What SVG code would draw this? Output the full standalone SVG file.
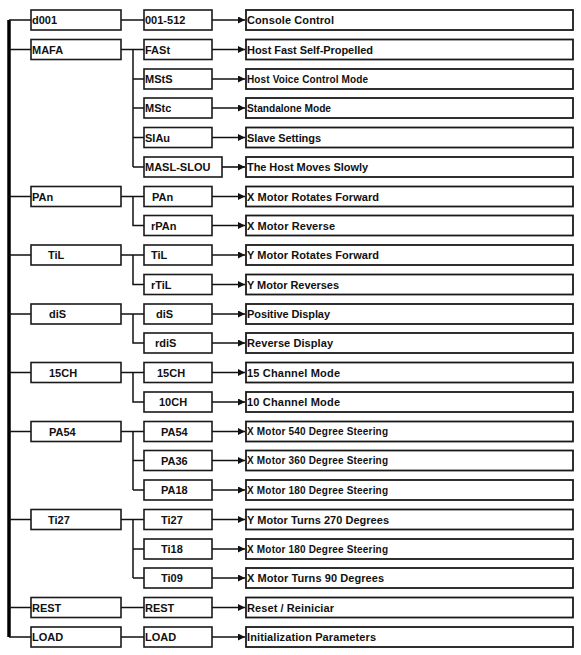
<svg xmlns="http://www.w3.org/2000/svg" width="581" height="655" viewBox="0 0 581 655">
<style>
.b{fill:#fff;stroke:#1a1a1a;stroke-width:1.6}
.r{fill:#fff;stroke:#1a1a1a;stroke-width:1.8}
.t{font-family:"Liberation Sans",Arial,sans-serif;font-weight:bold;font-size:11px;fill:#111}
.s{font-size:10px}
.c{fill:none;stroke:#111;stroke-width:1.5}
.a{fill:none;stroke:#111;stroke-width:1.6;marker-end:url(#ah)}
</style>
<defs>
<marker id="ah" markerWidth="8" markerHeight="7" refX="7" refY="3.5" orient="auto" markerUnits="userSpaceOnUse">
<path d="M0,0 L7,3.5 L0,7 Z" fill="#111"/>
</marker>
</defs>
<rect width="581" height="655" fill="#fff"/>
<g id="connectors">
<path d="M9,637 V20" fill="none" stroke="#000" stroke-width="3.5"/>
<path class="c" d="M9,20 H31 M9,49.5 H31 M9,196.5 H31 M9,255 H31 M9,314 H31 M9,372.5 H31 M9,431.5 H31 M9,519.5 H31 M9,607.5 H31 M9,637 H31"/>
<path class="c" d="M121,20 H144 M121,607.5 H144 M121,637 H144"/>
<path class="c" d="M121,49.5 H144 M133,49.5 V167 M133,79 H144 M133,108 H144 M133,137.5 H144 M133,167 H144"/>
<path class="c" d="M121,196.5 H144 M133,196.5 V225.5 H144"/>
<path class="c" d="M121,255 H144 M133,255 V284.5 H144"/>
<path class="c" d="M121,314 H144 M133,314 V343 H144"/>
<path class="c" d="M121,372.5 H144 M133,372.5 V402 H144"/>
<path class="c" d="M121,431.5 H144 M133,431.5 V490 M133,460.5 H144 M133,490 H144"/>
<path class="c" d="M121,519.5 H144 M133,519.5 V578 M133,549 H144 M133,578 H144"/>
<path class="a" d="M212,20 H245"/>
<path class="a" d="M212,49.5 H245"/>
<path class="a" d="M212,79 H245"/>
<path class="a" d="M212,108 H245"/>
<path class="a" d="M212,137.5 H245"/>
<path class="a" d="M222,167 H245"/>
<path class="a" d="M212,196.5 H245"/>
<path class="a" d="M212,225.5 H245"/>
<path class="a" d="M212,255 H245"/>
<path class="a" d="M212,284.5 H245"/>
<path class="a" d="M212,314 H245"/>
<path class="a" d="M212,343 H245"/>
<path class="a" d="M212,372.5 H245"/>
<path class="a" d="M212,402 H245"/>
<path class="a" d="M212,431.5 H245"/>
<path class="a" d="M212,460.5 H245"/>
<path class="a" d="M212,490 H245"/>
<path class="a" d="M212,519.5 H245"/>
<path class="a" d="M212,549 H245"/>
<path class="a" d="M212,578 H245"/>
<path class="a" d="M212,607.5 H245"/>
<path class="a" d="M212,637 H245"/>
</g>
<!-- level 1 -->
<g id="n-d001"><rect class="b" x="31" y="10" width="90" height="20"/><text class="t" x="32" y="24">d001</text></g>
<g id="n-MAFA"><rect class="b" x="31" y="39.5" width="90" height="20"/><text class="t" x="32" y="53.5">MAFA</text></g>
<g id="n-PAn"><rect class="b" x="31" y="186.5" width="90" height="20"/><text class="t" x="32" y="200.5">PAn</text></g>
<g id="n-TiL"><rect class="b" x="31" y="245" width="90" height="20"/><text class="t" x="48" y="259">TiL</text></g>
<g id="n-diS"><rect class="b" x="31" y="304" width="90" height="20"/><text class="t" x="49" y="318">diS</text></g>
<g id="n-15CH"><rect class="b" x="31" y="362.5" width="90" height="20"/><text class="t" x="49" y="376.5">15CH</text></g>
<g id="n-PA54"><rect class="b" x="31" y="421.5" width="90" height="20"/><text class="t" x="49" y="435.5">PA54</text></g>
<g id="n-Ti27"><rect class="b" x="31" y="509.5" width="90" height="20"/><text class="t" x="48" y="523.5">Ti27</text></g>
<g id="n-REST"><rect class="b" x="31" y="597.5" width="90" height="20"/><text class="t" x="32" y="611.5">REST</text></g>
<g id="n-LOAD"><rect class="b" x="31" y="627" width="90" height="20"/><text class="t" x="32" y="641">LOAD</text></g>
<!-- level 2 -->
<g id="m-001-512"><rect class="b" x="144" y="10" width="68" height="20"/><text class="t" x="145" y="24">001-512</text></g>
<g id="m-FASt"><rect class="b" x="144" y="39.5" width="68" height="20"/><text class="t" x="145" y="53.5">FASt</text></g>
<g id="m-MStS"><rect class="b" x="144" y="69" width="68" height="20"/><text class="t" x="145" y="83">MStS</text></g>
<g id="m-MStc"><rect class="b" x="144" y="98" width="68" height="20"/><text class="t" x="145" y="112">MStc</text></g>
<g id="m-SIAu"><rect class="b" x="144" y="127.5" width="68" height="20"/><text class="t" x="145" y="141.5">SIAu</text></g>
<g id="m-MASL-SLOU"><rect class="b" x="144" y="157" width="78" height="20"/><text class="t" x="145" y="171">MASL-SLOU</text></g>
<g id="m-PAn"><rect class="b" x="144" y="186.5" width="68" height="20"/><text class="t" x="152" y="200.5">PAn</text></g>
<g id="m-rPAn"><rect class="b" x="144" y="215.5" width="68" height="20"/><text class="t" x="151" y="229.5">rPAn</text></g>
<g id="m-TiL"><rect class="b" x="144" y="245" width="68" height="20"/><text class="t" x="151" y="259">TiL</text></g>
<g id="m-rTiL"><rect class="b" x="144" y="274.5" width="68" height="20"/><text class="t" x="151" y="288.5">rTiL</text></g>
<g id="m-diS"><rect class="b" x="144" y="304" width="68" height="20"/><text class="t" x="156" y="318">diS</text></g>
<g id="m-rdiS"><rect class="b" x="144" y="333" width="68" height="20"/><text class="t" x="155" y="347">rdiS</text></g>
<g id="m-15CH"><rect class="b" x="144" y="362.5" width="68" height="20"/><text class="t" x="157" y="376.5">15CH</text></g>
<g id="m-10CH"><rect class="b" x="144" y="392" width="68" height="20"/><text class="t" x="159" y="406">10CH</text></g>
<g id="m-PA54"><rect class="b" x="144" y="421.5" width="68" height="20"/><text class="t" x="161" y="435.5">PA54</text></g>
<g id="m-PA36"><rect class="b" x="144" y="450.5" width="68" height="20"/><text class="t" x="161" y="464.5">PA36</text></g>
<g id="m-PA18"><rect class="b" x="144" y="480" width="68" height="20"/><text class="t" x="161" y="494">PA18</text></g>
<g id="m-Ti27"><rect class="b" x="144" y="509.5" width="68" height="20"/><text class="t" x="161" y="523.5">Ti27</text></g>
<g id="m-Ti18"><rect class="b" x="144" y="539" width="68" height="20"/><text class="t" x="161" y="553">Ti18</text></g>
<g id="m-Ti09"><rect class="b" x="144" y="568" width="68" height="20"/><text class="t" x="161" y="582">Ti09</text></g>
<g id="m-REST"><rect class="b" x="144" y="597.5" width="68" height="20"/><text class="t" x="145" y="611.5">REST</text></g>
<g id="m-LOAD"><rect class="b" x="144" y="627" width="68" height="20"/><text class="t" x="145" y="641">LOAD</text></g>
<!-- level 3 -->
<g id="d-0"><rect class="r" x="246" y="10" width="327" height="20"/><text class="t" x="247" y="24" textLength="87">Console Control</text></g>
<g id="d-1"><rect class="r" x="246" y="39.5" width="327" height="20"/><text class="t" x="247" y="53.5" textLength="126">Host Fast Self-Propelled</text></g>
<g id="d-2"><rect class="r" x="246" y="69" width="327" height="20"/><text class="t s" x="247" y="82.5" textLength="121">Host Voice Control Mode</text></g>
<g id="d-3"><rect class="r" x="246" y="98" width="327" height="20"/><text class="t" style="font-size:10.2px" x="247" y="112" textLength="84">Standalone Mode</text></g>
<g id="d-4"><rect class="r" x="246" y="127.5" width="327" height="20"/><text class="t" x="247" y="141.5" textLength="74">Slave Settings</text></g>
<g id="d-5"><rect class="r" x="246" y="157" width="327" height="20"/><text class="t" x="247" y="171" textLength="121">The Host Moves Slowly</text></g>
<g id="d-6"><rect class="r" x="246" y="186.5" width="327" height="20"/><text class="t" x="247" y="200.5" textLength="132">X Motor Rotates Forward</text></g>
<g id="d-7"><rect class="r" x="246" y="215.5" width="327" height="20"/><text class="t" x="247" y="229.5" textLength="88">X Motor Reverse</text></g>
<g id="d-8"><rect class="r" x="246" y="245" width="327" height="20"/><text class="t" x="247" y="259" textLength="132">Y Motor Rotates Forward</text></g>
<g id="d-9"><rect class="r" x="246" y="274.5" width="327" height="20"/><text class="t" x="247" y="288.5" textLength="92">Y Motor Reverses</text></g>
<g id="d-10"><rect class="r" x="246" y="304" width="327" height="20"/><text class="t" x="247" y="318" textLength="83">Positive Display</text></g>
<g id="d-11"><rect class="r" x="246" y="333" width="327" height="20"/><text class="t" x="247" y="347" textLength="86">Reverse Display</text></g>
<g id="d-12"><rect class="r" x="246" y="362.5" width="327" height="20"/><text class="t" x="247" y="376.5" textLength="93">15 Channel Mode</text></g>
<g id="d-13"><rect class="r" x="246" y="392" width="327" height="20"/><text class="t" x="247" y="406" textLength="93">10 Channel Mode</text></g>
<g id="d-14"><rect class="r" x="246" y="421.5" width="327" height="20"/><text class="t s" x="247" y="435" textLength="141">X Motor 540 Degree Steering</text></g>
<g id="d-15"><rect class="r" x="246" y="450.5" width="327" height="20"/><text class="t s" x="247" y="464" textLength="141">X Motor 360 Degree Steering</text></g>
<g id="d-16"><rect class="r" x="246" y="480" width="327" height="20"/><text class="t s" x="247" y="493.5" textLength="141">X Motor 180 Degree Steering</text></g>
<g id="d-17"><rect class="r" x="246" y="509.5" width="327" height="20"/><text class="t" x="247" y="523.5" textLength="142">Y Motor Turns 270 Degrees</text></g>
<g id="d-18"><rect class="r" x="246" y="539" width="327" height="20"/><text class="t s" x="247" y="552.5" textLength="141">X Motor 180 Degree Steering</text></g>
<g id="d-19"><rect class="r" x="246" y="568" width="327" height="20"/><text class="t" x="247" y="582" textLength="137">X Motor Turns 90 Degrees</text></g>
<g id="d-20"><rect class="r" x="246" y="597.5" width="327" height="20"/><text class="t" x="247" y="611.5" textLength="87">Reset / Reiniciar</text></g>
<g id="d-21"><rect class="r" x="246" y="627" width="327" height="20"/><text class="t" x="247" y="641" textLength="129">Initialization Parameters</text></g>
</svg>
